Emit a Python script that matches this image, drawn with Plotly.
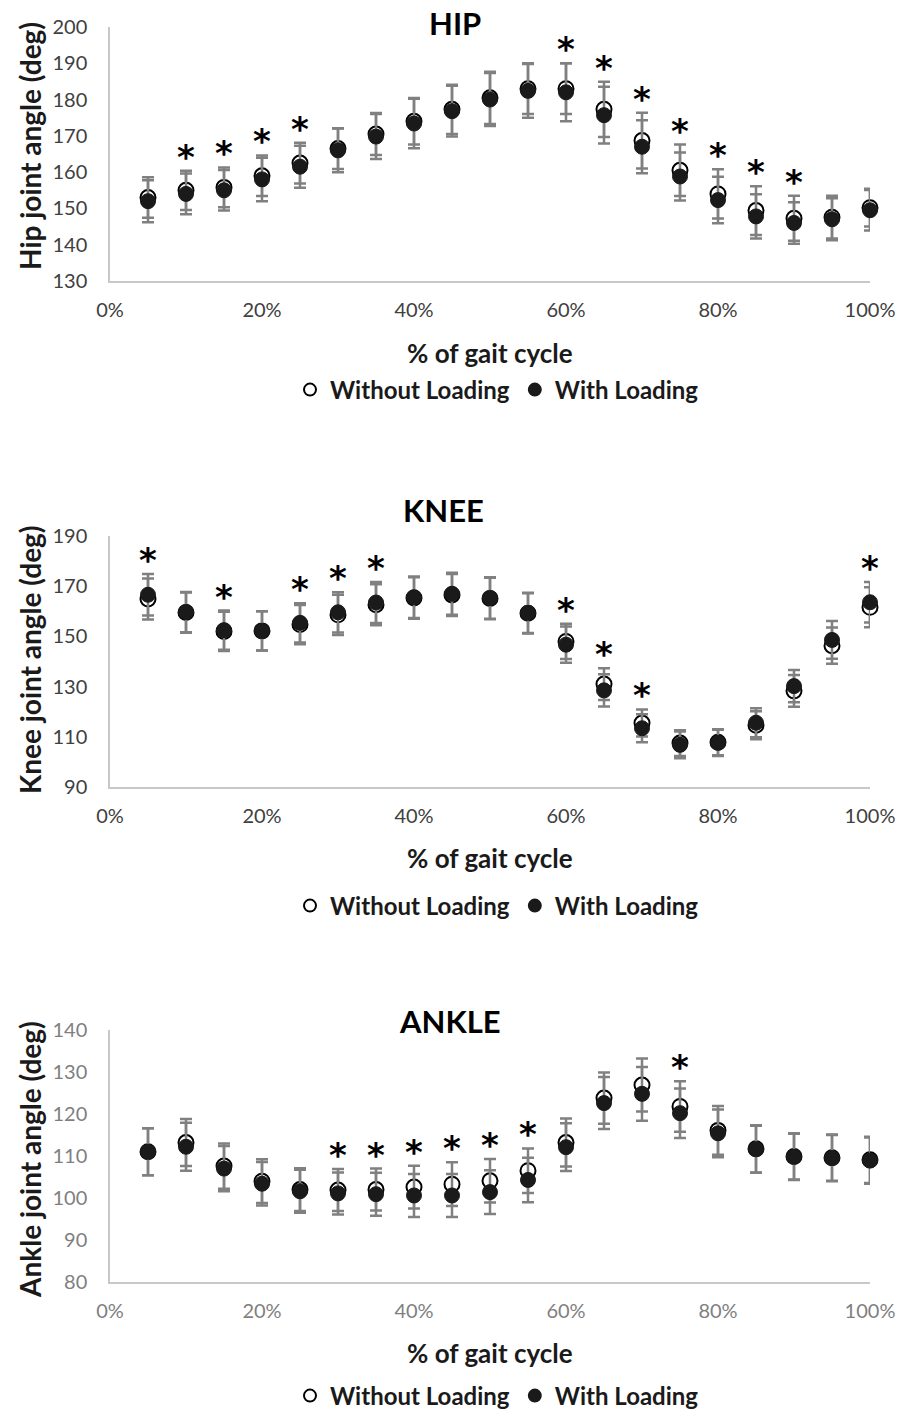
import plotly.graph_objects as go

# ---------------- data ----------------
pct = [5, 10, 15, 20, 25, 30, 35, 40, 45, 50, 55, 60, 65, 70, 75, 80, 85, 90, 95, 100]

hip_wo = [153.0, 155.0, 155.8, 159.0, 162.5, 166.5, 170.5, 174.0, 177.3, 180.5,
          183.0, 183.0, 177.3, 168.7, 160.5, 154.0, 149.4, 147.3, 147.6, 150.2]
hip_wo_sd = [5.6, 5.4, 5.5, 5.6, 5.6, 5.6, 5.8, 6.4, 6.8, 7.2,
             7.0, 7.0, 7.6, 7.7, 7.1, 6.8, 6.7, 6.2, 5.9, 5.2]
hip_w = [152.0, 154.0, 155.0, 158.0, 161.5, 166.0, 169.8, 173.4, 176.8, 180.0,
         182.4, 182.0, 175.7, 167.0, 158.8, 152.3, 147.8, 146.0, 147.0, 149.5]
hip_w_sd = [5.8, 5.6, 5.6, 6.0, 5.8, 6.0, 6.2, 6.8, 7.0, 7.3,
            7.4, 8.0, 7.8, 7.3, 6.6, 6.4, 6.1, 5.7, 5.8, 5.6]

knee_wo = [164.9, 159.5, 152.0, 152.2, 154.7, 158.6, 162.6, 165.3, 166.5, 165.1,
           159.2, 148.0, 131.0, 115.5, 107.5, 107.8, 114.6, 128.3, 146.3, 161.6]
knee_wo_sd = [8.2, 8.0, 7.8, 7.8, 7.8, 8.0, 8.2, 8.3, 8.4, 8.3,
              8.0, 7.0, 6.3, 5.4, 5.1, 5.2, 5.6, 6.3, 7.2, 8.0]
knee_w = [166.6, 159.7, 152.5, 152.2, 155.4, 159.6, 163.5, 165.6, 167.0, 165.3,
          159.4, 146.7, 128.5, 113.4, 106.8, 107.6, 115.6, 130.2, 148.6, 163.6]
knee_w_sd = [8.3, 8.0, 7.8, 7.8, 7.8, 8.0, 8.2, 8.3, 8.4, 8.3,
             8.0, 7.2, 6.4, 5.6, 5.3, 5.2, 5.8, 6.4, 7.5, 8.1]

ankle_wo = [111.0, 113.2, 107.6, 104.0, 102.0, 101.9, 102.0, 102.6, 103.3, 104.1,
            106.5, 113.2, 123.8, 126.9, 121.8, 116.1, 111.7, 109.9, 109.6, 109.1]
ankle_wo_sd = [5.6, 5.6, 5.4, 5.2, 5.1, 5.0, 5.0, 5.1, 5.2, 5.2,
               5.3, 5.7, 6.1, 6.3, 6.0, 5.8, 5.6, 5.5, 5.5, 5.5]
ankle_w = [111.0, 112.2, 107.0, 103.4, 101.6, 101.1, 100.9, 100.6, 100.6, 101.4,
           104.3, 112.1, 122.6, 124.8, 120.2, 115.4, 111.6, 109.8, 109.5, 108.9]
ankle_w_sd = [5.6, 5.7, 5.4, 5.2, 5.1, 5.0, 5.1, 5.1, 5.1, 5.2,
              5.3, 5.7, 6.2, 6.4, 5.9, 5.7, 5.6, 5.5, 5.5, 5.5]

hip_sig = [10, 15, 20, 25, 60, 65, 70, 75, 80, 85, 90]
knee_sig = [5, 15, 25, 30, 35, 60, 65, 70, 100]
ankle_sig = [30, 35, 40, 45, 50, 55, 75]

x_ticks = [0, 20, 40, 60, 80, 100]
hip_yticks = [130, 140, 150, 160, 170, 180, 190, 200]
knee_yticks = [90, 110, 130, 150, 170, 190]
ankle_yticks = [80, 90, 100, 110, 120, 130, 140]

titles = ["HIP", "KNEE", "ANKLE"]
ytitles = ["Hip joint angle (deg)", "Knee joint angle (deg)", "Ankle joint angle (deg)"]
xtitle = "% of gait cycle"
names = ["Without Loading", "With Loading"]

# ---------------- layout geometry (pixels) ----------------
W, H = 899, 1412
FONT = "Lato"
x0_px, x1_px = 110, 870
panels = [
    dict(top=27, bot=281, ymin=130, ymax=200, yticks=hip_yticks, tickcol="#404040",
         title_xy=(455, 23), ytitle_y=146, xtitle_y=353, legend_y=390),
    dict(top=536, bot=787, ymin=90, ymax=190, yticks=knee_yticks, tickcol="#404040",
         title_xy=(443, 510), ytitle_y=660, xtitle_y=858, legend_y=906),
    dict(top=1030, bot=1282, ymin=80, ymax=140, yticks=ankle_yticks, tickcol="#7f7f7f",
         title_xy=(450, 1021), ytitle_y=1160, xtitle_y=1353, legend_y=1396),
]
series = [
    (hip_wo, hip_wo_sd, hip_w, hip_w_sd, hip_sig),
    (knee_wo, knee_wo_sd, knee_w, knee_w_sd, knee_sig),
    (ankle_wo, ankle_wo_sd, ankle_w, ankle_w_sd, ankle_sig),
]


def py(p):
    return 1 - p / H


def px(p):
    return p / W


fig = go.Figure()
annotations = []
layout = dict(
    template="none",
    width=W, height=H, margin=dict(l=0, r=0, t=0, b=0, pad=0, autoexpand=False),
    paper_bgcolor="white", plot_bgcolor="white",
    font=dict(family=FONT, color="#404040"),
    showlegend=True,
)

err_col = "#808080"
for i, (pn, (wo, wo_sd, w, w_sd, sig)) in enumerate(zip(panels, series)):
    k = "" if i == 0 else str(i + 1)
    xa, ya = "x" + k, "y" + k
    leg = "legend" + k
    xs = [p / 100 for p in pct]
    fig.add_trace(go.Scatter(
        x=xs, y=wo, xaxis=xa, yaxis=ya, mode="markers", name=names[0], legend=leg,
        marker=dict(symbol="circle", size=15, color="white", line=dict(color="black", width=2)),
        error_y=dict(type="data", array=wo_sd, visible=True, color=err_col, thickness=2.5, width=6),
        cliponaxis=False,
    ))
    fig.add_trace(go.Scatter(
        x=xs, y=w, xaxis=xa, yaxis=ya, mode="markers", name=names[1], legend=leg,
        marker=dict(symbol="circle", size=15, color="#1a1a1a", line=dict(color="#1a1a1a", width=1)),
        error_y=dict(type="data", array=w_sd, visible=True, color=err_col, thickness=2.5, width=6),
        cliponaxis=False,
    ))

    layout["xaxis" + k] = dict(
        domain=[px(x0_px), px(x1_px)], anchor=ya, range=[0, 1], automargin=False,
        tickvals=[t / 100 for t in x_ticks], tickformat=".0%",
        showgrid=False, zeroline=False, showline=True, linecolor="#c8c8c8", linewidth=1.5,
        ticks="", tickfont=dict(family=FONT, size=20, color=pn["tickcol"]),
        ticklabelstandoff=10,
    )
    layout["yaxis" + k] = dict(
        domain=[py(pn["bot"]), py(pn["top"])], anchor=xa, range=[pn["ymin"], pn["ymax"]],
        tickvals=pn["yticks"], automargin=False,
        showgrid=False, zeroline=False, showline=True, linecolor="#c8c8c8", linewidth=1.5,
        ticks="", tickfont=dict(family=FONT, size=20, color=pn["tickcol"]),
        ticklabelstandoff=17,
    )
    layout[leg] = dict(
        orientation="h", x=px(497), xanchor="center", y=py(pn["legend_y"]), yanchor="middle",
        font=dict(family=FONT, size=24, color="#1a1a1a", weight="bold"),
        itemsizing="constant", bgcolor="rgba(0,0,0,0)", itemwidth=30,
    )

    # panel title
    annotations.append(dict(
        text="<b>" + titles[i] + "</b>", x=px(pn["title_xy"][0]), y=py(pn["title_xy"][1]),
        xref="paper", yref="paper", showarrow=False, xanchor="center", yanchor="middle",
        font=dict(family=FONT, size=31, color="black"),
    ))
    # y title
    annotations.append(dict(
        text="<b>" + ytitles[i] + "</b>", x=px(30), y=py(pn["ytitle_y"]),
        xref="paper", yref="paper", showarrow=False, textangle=-90,
        xanchor="center", yanchor="middle",
        font=dict(family=FONT, size=28, color="#1a1a1a"),
    ))
    # x title
    annotations.append(dict(
        text="<b>" + xtitle + "</b>", x=px(490), y=py(pn["xtitle_y"]),
        xref="paper", yref="paper", showarrow=False, xanchor="center", yanchor="middle",
        font=dict(family=FONT, size=26, color="#1a1a1a"),
    ))
    # significance asterisks above the highest error bar
    for s in sig:
        j = pct.index(s)
        top = max(wo[j] + wo_sd[j], w[j] + w_sd[j])
        annotations.append(dict(
            text="<b>*</b>", x=s / 100, y=top, xref=xa, yref=ya, showarrow=False,
            xanchor="center", yanchor="middle", yshift=14,
            font=dict(family="DejaVu Sans", size=34, color="black"),
        ))

layout["annotations"] = annotations
fig.update_layout(**layout)
fig.write_html("out.html", config={"displayModeBar": False},
               post_script="document.body.style.margin='0';")
